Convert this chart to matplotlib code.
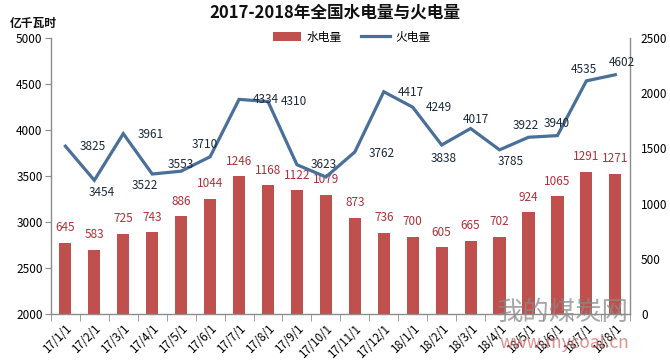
import matplotlib
matplotlib.use("Agg")
import matplotlib.pyplot as plt
from matplotlib.patches import Patch
from matplotlib.lines import Line2D

plt.rcParams['font.family'] = ['Noto Sans CJK SC', 'DejaVu Sans']

months = ["17/1/1", "17/2/1", "17/3/1", "17/4/1", "17/5/1", "17/6/1", "17/7/1",
          "17/8/1", "17/9/1", "17/10/1", "17/11/1", "17/12/1", "18/1/1", "18/2/1",
          "18/3/1", "18/4/1", "18/5/1", "18/6/1", "18/7/1", "18/8/1"]
hydro = [645, 583, 725, 743, 886, 1044, 1246, 1168, 1122, 1079,
         873, 736, 700, 605, 665, 702, 924, 1065, 1291, 1271]
thermal = [3825, 3454, 3961, 3522, 3553, 3710, 4334, 4310, 3623, 3490,
           3762, 4417, 4249, 3838, 4017, 3785, 3922, 3940, 4535, 4602]
thermal_labeled = [True] * 9 + [False] + [True] * 10
# label offsets (pixels) for thermal labels, mimicking the reference placement
th_off = [(27, 0), (7, -12), (27, -1), (-7, -11), (0, 7), (-5, 12), (27, 0), (26, 0),
          (27, 0), (0, 0), (27, -2), (27, -1), (26, 0), (2, -14), (5, 9), (11, -12),
          (-3, 12), (-1, 12), (-3, 11), (7, 12)]

bar_color = '#C0504D'
line_color = '#4A6F98'
axis_color = '#8C8C8C'

fig = plt.figure(figsize=(6.7, 3.63), dpi=100)
ax = fig.add_axes([0.076, 0.135, 0.864, 0.760])
ax2 = ax.twinx()
ax.set_zorder(ax2.get_zorder() + 1)
ax.patch.set_visible(False)

x = list(range(len(months)))
ax2.bar(x, hydro, width=0.42, color=bar_color, zorder=2)
for xi, v in zip(x, hydro):
    ax2.annotate(str(v), (xi, v), xytext=(0, 15), textcoords='offset pixels',
                 ha='center', va='center', fontsize=8.5, color='#B0303A')

ax.plot(x, thermal, color=line_color, lw=2.3, solid_joinstyle='miter', zorder=3)
for xi, v, lab, off in zip(x, thermal, thermal_labeled, th_off):
    if lab:
        ax.annotate(str(v), (xi, v), xytext=off, textcoords='offset pixels',
                    ha='center', va='center', fontsize=8.5, color='#1C2A3A')

ax.set_xlim(-0.5, len(months) - 0.5)
ax.set_ylim(2000, 5000)
ax2.set_ylim(0, 2500)
ax.set_yticks(range(2000, 5001, 500))
ax2.set_yticks(range(0, 2501, 500))

ax.set_xticks(x)
ax.set_xticklabels(months, rotation=45, ha='right', rotation_mode='anchor', fontsize=8.3)
ax.set_xticks([i - 0.5 for i in range(len(months) + 1)], minor=True)
ax.tick_params(axis='x', which='major', length=0, pad=6)
ax.tick_params(axis='x', which='minor', length=5, color=axis_color)
ax.tick_params(axis='y', labelsize=8.5, length=4, color=axis_color, pad=2)
ax2.tick_params(axis='y', labelsize=8.5, length=0, pad=8)
ax2.tick_params(axis='x', length=0)

for a in (ax, ax2):
    a.spines['top'].set_visible(False)
    for s in ('left', 'right', 'bottom'):
        a.spines[s].set_color(axis_color)
        a.spines[s].set_linewidth(1.0)
ax.spines['right'].set_visible(False)
ax2.spines['left'].set_visible(False)
ax2.spines['bottom'].set_visible(False)

fig.text(0.5, 0.965, '2017-2018年全国水电量与火电量', ha='center', va='center',
         fontsize=12, fontweight='bold', color='#111111')
fig.text(0.015, 0.935, '亿千瓦时', ha='left', va='center', fontsize=8.5,
         fontweight='bold', color='#111111')

handles = [Patch(facecolor=bar_color, edgecolor='none'),
           Line2D([0], [0], color=line_color, lw=2.3)]
fig.legend(handles, ['水电量', '火电量'], loc='center', bbox_to_anchor=(0.525, 0.898),
           ncol=2, frameon=False, fontsize=8.5, handlelength=2.4, handleheight=0.8,
           columnspacing=1.6, handletextpad=0.5)

# watermark
fig.text(0.742, 0.14, '我的煤炭网', ha='left', va='center', fontsize=19,
         color='#8A8A8A', alpha=0.75)
fig.text(0.745, 0.055, 'www.mycoal.cn', ha='left', va='center', fontsize=12.5,
         color='#D86A6A', alpha=0.75)

fig.savefig('out.png', dpi=100)
